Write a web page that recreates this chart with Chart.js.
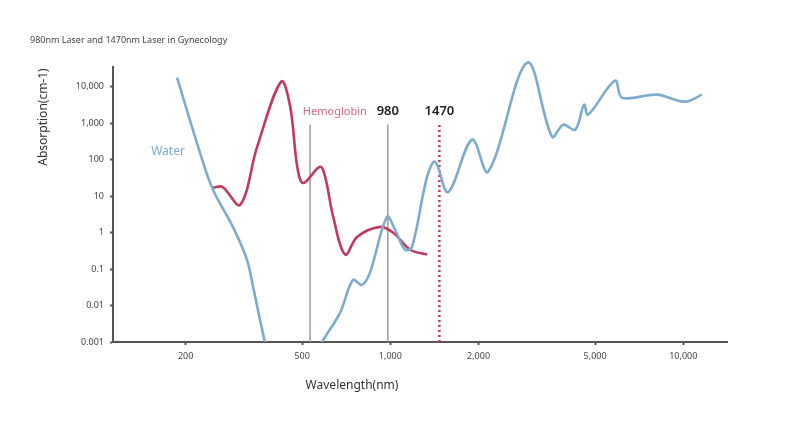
<!DOCTYPE html>
<html>
<head>
<meta charset="utf-8">
<script src="https://cdn.jsdelivr.net/npm/chart.js@4"></script>
<style>
  html, body { margin: 0; padding: 0; background: #fff; }
  #wrap { width: 789px; height: 435px; }
</style>
</head>
<body>
<div id="wrap"><canvas id="absChart"></canvas></div>
<script>
// water absorption (wavelength nm, cm-1)
const waterWl = [187, 224, 248, 290, 324, 340, 373, 394, 532, 585, 673, 745, 800, 851, 974, 1038, 1122, 1186, 1334, 1422, 1574, 1901, 2157, 2931, 3565, 3890, 4276, 4586, 4730, 5850, 6180, 8130, 10130, 11580];
const waterAbs = [17900, 155, 15, 1.44, 0.18, 0.032, 0.001, 0.0002, 0.0002, 0.001, 0.0063, 0.05, 0.037, 0.079, 2.7, 1.2, 0.34, 0.41, 34, 88, 13, 354, 47, 46000, 428, 915, 667, 3240, 1720, 14800, 5050, 6100, 3920, 6100];

// hemoglobin absorption
const hbWl = [248, 267, 307, 351, 424, 455, 481, 504, 575, 599, 638, 701, 771, 923, 1023, 1169, 1334];
const hbAbs = [17, 18, 5.8, 228, 13900, 2860, 64, 23, 64, 34, 2.7, 0.25, 0.77, 1.44, 0.99, 0.34, 0.25];

// laser marker lines
const markerWl = [532, 980, 1470];
const markerLabels = ['Hemoglobin', '980', '1470'];
const markerTop = 915;

const xTicks = [200, 500, 1000, 2000, 5000, 10000];
const yTicks = [0.001, 0.01, 0.1, 1, 10, 100, 1000, 10000];

const WATER = '#7eaccd';
const HB = '#c23a60';
const FONT = '"Noto Sans", sans-serif';

const markerSets = markerWl.map((w, i) => ({
    data: [{ x: w, y: 0.001 }, { x: w, y: markerTop }],
    borderColor: i === 2 ? HB : '#9a9a9a',
    borderWidth: i === 2 ? 2.5 : 1.5,
    borderDash: i === 2 ? [2, 3] : [],
    pointRadius: 0,
    tension: 0
}));

const textPlugin = {
    id: 'texts',
    afterDraw(chart) {
        const { ctx, scales: { x, y } } = chart;
        ctx.save();
        ctx.fillStyle = '#444';
        ctx.font = '9px ' + FONT;
        ctx.textAlign = 'left';
        ctx.textBaseline = 'middle';
        ctx.fillText('980nm Laser and 1470nm Laser in Gynecology', 30, 40);

        ctx.fillStyle = '#333';
        ctx.font = '12px ' + FONT;
        ctx.textAlign = 'center';
        ctx.fillText('Wavelength(nm)', 352, 386);
        ctx.translate(44, 117);
        ctx.rotate(-Math.PI / 2);
        ctx.fillText('Absorption(cm-1)', 0, 0);
        ctx.setTransform(1, 0, 0, 1, 0, 0);
        ctx.restore();

        ctx.save();
        ctx.textBaseline = 'middle';
        const top = y.getPixelForValue(markerTop);
        ctx.font = '11px ' + FONT;
        ctx.fillStyle = '#d0668a';
        ctx.textAlign = 'right';
        ctx.fillText(markerLabels[0], x.getPixelForValue(markerWl[1]) - 21, top - 13);
        ctx.font = '600 13px ' + FONT;
        ctx.fillStyle = '#222';
        ctx.textAlign = 'center';
        ctx.fillText(markerLabels[1], x.getPixelForValue(markerWl[1]), top - 13);
        ctx.fillText(markerLabels[2], x.getPixelForValue(markerWl[2]), top - 13);
        ctx.font = '12px ' + FONT;
        ctx.fillStyle = WATER;
        ctx.fillText('Water', 168, 152);
        ctx.restore();
    }
};

new Chart(document.getElementById('absChart'), {
    type: 'line',
    data: {
        datasets: [
            {
                data: waterWl.map((w, i) => ({ x: w, y: waterAbs[i] })),
                borderColor: WATER, borderWidth: 2.6, pointRadius: 0,
                tension: 0.35,
                clip: { left: 0, right: 0, bottom: 0, top: 10 }
            },
            {
                data: hbWl.map((w, i) => ({ x: w, y: hbAbs[i] })),
                borderColor: HB, borderWidth: 2.6, pointRadius: 0,
                tension: 0.35
            },
            ...markerSets
        ]
    },
    options: {
        responsive: true,
        maintainAspectRatio: false,
        animation: false,
        layout: { padding: { top: 67, right: 62, left: 0, bottom: 0 } },
        plugins: { legend: { display: false }, tooltip: { enabled: false } },
        scales: {
            x: {
                type: 'logarithmic', min: 113, max: 14100,
                afterBuildTicks: s => { s.ticks = xTicks.map(v => ({ value: v })); },
                afterFit: s => { s.height = 93; },
                ticks: { color: '#444', font: { size: 9, family: FONT }, callback: v => v.toLocaleString('en-US'), maxRotation: 0, padding: 6 },
                grid: { drawOnChartArea: false, tickLength: 3, color: '#555', tickWidth: 2 },
                border: { color: '#555', width: 2 }
            },
            y: {
                type: 'logarithmic', min: 0.001, max: 35000,
                afterBuildTicks: s => { s.ticks = yTicks.map(v => ({ value: v })); },
                afterFit: s => { s.width = 113; },
                ticks: { color: '#444', font: { size: 9, family: FONT }, callback: v => v.toLocaleString('en-US', { maximumFractionDigits: 3 }), padding: 6 },
                grid: { drawOnChartArea: false, tickLength: 3, color: '#555', tickWidth: 2 },
                border: { color: '#555', width: 2 }
            }
        }
    },
    plugins: [textPlugin]
});
</script>
</body>
</html>
